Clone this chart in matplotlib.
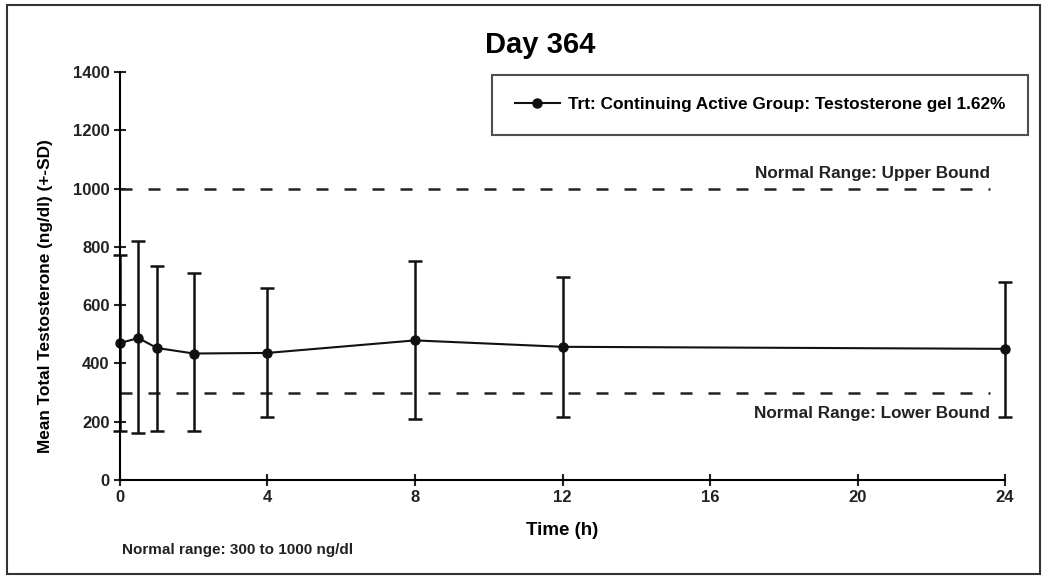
import matplotlib
matplotlib.use('Agg')
import matplotlib.pyplot as plt
from matplotlib.patches import Rectangle

plt.rcParams['font.family'] = ['Liberation Sans', 'DejaVu Sans']
plt.rcParams['font.weight'] = 'bold'

# Data
time_h = [0, 0.5, 1, 2, 4, 8, 12, 24]
mean_t = [470, 487, 453, 434, 436, 479, 457, 450]
upper_sd = [772, 821, 734, 709, 660, 751, 698, 681]
lower_sd = [169, 160, 168, 168, 216, 209, 215, 215]
normal_low = 300
normal_high = 1000
x_ticks = [0, 4, 8, 12, 16, 20, 24]
y_ticks = [0, 200, 400, 600, 800, 1000, 1200, 1400]

err_lo = [m - l for m, l in zip(mean_t, lower_sd)]
err_hi = [u - m for m, u in zip(mean_t, upper_sd)]

fig = plt.figure(figsize=(10.47, 5.76), dpi=100)
ax = fig.add_axes([0.1146, 0.1667, 0.8453, 0.7083])

# outer frame round the whole picture
fig.patches.append(Rectangle((0.0067, 0.0035), 0.9866, 0.988, transform=fig.transFigure,
                             fill=False, edgecolor='#333333', linewidth=1.5))

# normal range lines
ax.plot([0, 23.6], [normal_high, normal_high], color='#222222', lw=1.8, dashes=(4.8, 6.4))
ax.plot([0, 23.6], [normal_low, normal_low], color='#222222', lw=1.8, dashes=(4.8, 6.4))

ax.errorbar(time_h, mean_t, yerr=[err_lo, err_hi], fmt='none', ecolor='#111111',
            elinewidth=1.8, capsize=5, capthick=1.8, clip_on=False)
ax.plot(time_h, mean_t, color='#111111', lw=1.5, marker='o', markersize=6.5, clip_on=False,
        label='Trt: Continuing Active Group: Testosterone gel 1.62%')

ax.text(23.6, normal_high + 25, 'Normal Range: Upper Bound', ha='right', va='bottom',
        fontsize=12.3, fontweight='bold', color='#222222')
ax.text(23.6, normal_low - 45, 'Normal Range: Lower Bound', ha='right', va='top',
        fontsize=12.3, fontweight='bold', color='#222222')

ax.set_xlim(0, 24)
ax.set_ylim(0, 1400)
ax.set_xticks(x_ticks)
ax.set_yticks(y_ticks)
ax.tick_params(direction='inout', length=8, width=1.5, labelsize=12, colors='#222222')
for lab in ax.get_xticklabels() + ax.get_yticklabels():
    lab.set_fontweight('bold')
ax.spines['top'].set_visible(False)
ax.spines['right'].set_visible(False)
ax.spines['left'].set_linewidth(1.5)
ax.spines['bottom'].set_linewidth(1.5)

ax.set_title('Day 364', fontsize=21, fontweight='bold', pad=14, x=0.475)
ax.set_xlabel('Time (h)', fontsize=13.5, fontweight='bold', labelpad=12)
ax.set_ylabel('Mean Total Testosterone (ng/dl) (+-SD)', fontsize=12.4, fontweight='bold')
ax.yaxis.set_label_coords(-0.076, 0.45)

leg = ax.legend(loc='upper right', bbox_to_anchor=(1.026, 0.993), borderaxespad=0,
                fontsize=12.4, frameon=True, fancybox=False, borderpad=1.3,
                handlelength=2.6, handletextpad=0.5)
leg.get_frame().set_edgecolor('#222222')
leg.get_frame().set_linewidth(1.5)
for t in leg.get_texts():
    t.set_fontweight('bold')

fig.text(0.117, 0.045, 'Normal range: 300 to 1000 ng/dl', fontsize=11, fontweight='bold',
         color='#222222', va='center')

fig.savefig('out.png', dpi=100)
